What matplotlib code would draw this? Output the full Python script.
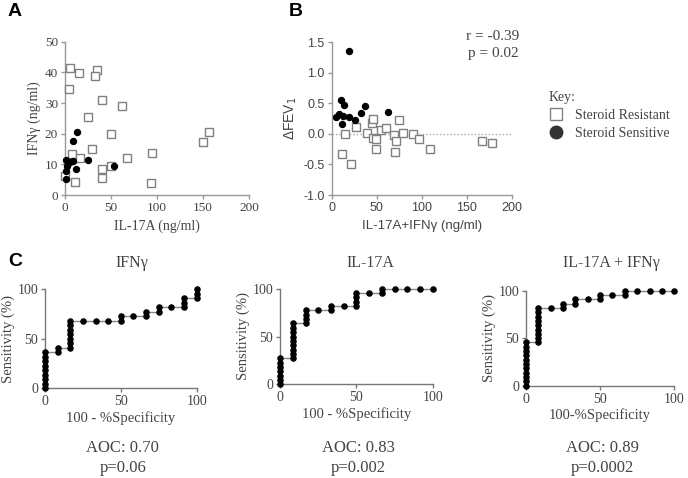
import matplotlib
matplotlib.use("Agg")
import matplotlib.pyplot as plt
from matplotlib.lines import Line2D

# ---------------- Data ----------------
# Panel A: IL-17A vs IFNγ
a_res_x = [5.4, 15.6, 34.7, 32.5, 4.7, 39.8, 61.8, 25, 49.5, 157, 150, 29.7, 95, 8, 16, 67, 50, 40.5, 40.5, 10.8, 93, 0.3]
a_res_y = [41.3, 39.9, 40.8, 38.7, 34.7, 31.1, 29.0, 25.3, 19.8, 20.7, 17.4, 15.1, 13.8, 13.3, 12.0, 12.0, 9.3, 8.5, 5.7, 4.1, 4.0, 6.2]
a_sen_x = [12.7, 8.3, 25.4, 53.6, 12.0, 0.7, 1.0, 3.0, 5.5, 9.0, 2.0, 0.8]
a_sen_y = [20.7, 17.6, 11.3, 9.5, 8.4, 5.1, 11.5, 10.4, 10.8, 11.0, 9.6, 7.8]

# Panel B: IL-17A+IFNγ vs ΔFEV1
b_res_x = [27.4, 14.4, 11.1, 21, 39, 44.4, 46.3, 46, 49, 49.6, 54.8, 60, 75.2, 69, 71.5, 70.4, 79, 90.4, 97, 109, 167, 178]
b_res_y = [0.12, 0.0, -0.33, -0.49, 0.01, 0.18, 0.24, -0.06, -0.09, -0.24, 0.07, 0.10, 0.22, -0.02, -0.11, -0.29, 0.01, 0.0, -0.08, -0.24, -0.12, -0.15]
b_sen_x = [19.3, 10.4, 13.7, 5.2, 8.5, 12.2, 11.1, 19.6, 26, 33, 37, 63]
b_sen_y = [1.35, 0.55, 0.48, 0.27, 0.32, 0.29, 0.16, 0.28, 0.22, 0.35, 0.46, 0.36]
b_stats = ["r = -0.39", "p = 0.02"]

# Panel C: ROC curves (100 - %Specificity, Sensitivity %)
roc_titles = ["IFNγ", "IL-17A", "IL-17A + IFNγ"]
roc_xlabels = ["100 - %Specificity", "100 - %Specificity", "100-%Specificity"]
roc_aoc = ["AOC: 0.70", "AOC: 0.83", "AOC: 0.89"]
roc_p = ["p=0.06", "p=0.002", "p=0.0002"]

roc1_x = [0, 0, 0, 0, 0, 0, 0, 0, 0,
          8.3, 8.3,
          16.7, 16.7, 16.7, 16.7, 16.7, 16.7, 16.7,
          25, 33.3, 41.7, 50, 50, 58.3, 66.7, 66.7, 75, 75, 83.3,
          91.7, 91.7, 91.7, 100, 100, 100]
roc1_y = [0, 4.5, 9.1, 13.6, 18.2, 22.7, 27.3, 31.8, 36.4,
          36.4, 40.9,
          40.9, 45.5, 50, 54.5, 59.1, 63.6, 68.2,
          68.2, 68.2, 68.2, 68.2, 72.7, 72.7, 72.7, 77.3, 77.3, 81.8, 81.8,
          81.8, 86.4, 90.9, 90.9, 95.5, 100]

roc2_x = [0, 0, 0, 0, 0, 0, 0,
          8.3, 8.3, 8.3, 8.3, 8.3, 8.3, 8.3, 8.3, 8.3,
          16.7, 16.7, 16.7, 16.7, 25, 33.3, 33.3, 41.7,
          50, 50, 50, 50, 58.3, 66.7, 66.7, 75, 83.3, 91.7, 100]
roc2_y = [0, 4.5, 9.1, 13.6, 18.2, 22.7, 27.3,
          27.3, 31.8, 36.4, 40.9, 45.5, 50, 54.5, 59.1, 63.6,
          63.6, 68.2, 72.7, 77.3, 77.3, 77.3, 81.8, 81.8,
          81.8, 86.4, 90.9, 95.5, 95.5, 95.5, 100, 100, 100, 100, 100]

roc3_x = [0, 0, 0, 0, 0, 0, 0, 0, 0, 0, 0,
          8.3, 8.3, 8.3, 8.3, 8.3, 8.3, 8.3, 8.3, 8.3,
          16.7, 25, 25, 33.3, 33.3, 41.7, 50, 50, 58.3, 66.7, 66.7,
          75, 83.3, 91.7, 100]
roc3_y = [0, 4.5, 9.1, 13.6, 18.2, 22.7, 27.3, 31.8, 36.4, 40.9, 45.5,
          45.5, 50, 54.5, 59.1, 63.6, 68.2, 72.7, 77.3, 81.8,
          81.8, 81.8, 86.4, 86.4, 90.9, 90.9, 90.9, 95.5, 95.5, 95.5, 100,
          100, 100, 100, 100]

roc_xs = [roc1_x, roc2_x, roc3_x]
roc_ys = [roc1_y, roc2_y, roc3_y]

# ---------------- Figure ----------------
W, H = 688, 478
fig = plt.figure(figsize=(W / 100, H / 100), dpi=100)
SERIF = "Liberation Serif"
SANS = "Liberation Sans"
TXT = "#444444"


def px_axes(x0, x1, ytop, ybot):
    return fig.add_axes([x0 / W, 1 - ybot / H, (x1 - x0) / W, (ybot - ytop) / H])


def style(ax, color, family, size):
    for s in ["top", "right"]:
        ax.spines[s].set_visible(False)
    for s in ["left", "bottom"]:
        ax.spines[s].set_color(color)
        ax.spines[s].set_linewidth(1.0)
    ax.tick_params(direction="out", length=3, width=1.0, color=color,
                   labelcolor=TXT, labelsize=size, pad=2)
    for lab in ax.get_xticklabels() + ax.get_yticklabels():
        lab.set_family(family)


sq_kw = dict(marker="s", ms=5.4, mfc="white", mec="#808080", mew=1.0, ls="none", clip_on=False, zorder=3)
ci_kw = dict(marker="o", ms=4.3, mfc="black", mec="black", ls="none", clip_on=False, zorder=4)

# Panel A
axA = px_axes(65, 249, 41.7, 195)
axA.plot(a_res_x, a_res_y, **sq_kw)
axA.plot(a_sen_x, a_sen_y, **ci_kw)
axA.set_xlim(0, 200)
axA.set_ylim(0, 50)
axA.set_xticks([0, 50, 100, 150, 200])
axA.set_yticks([0, 10, 20, 30, 40, 50])
style(axA, "#999999", SERIF, 9.5)
axA.set_xlabel("IL-17A (ng/ml)", family=SERIF, fontsize=10, color=TXT, labelpad=4)
axA.set_ylabel("IFNγ (ng/ml)", family=SERIF, fontsize=10, color=TXT, labelpad=3)

# Panel B
axB = px_axes(331.7, 511.7, 42.3, 195)
axB.axhline(0, color="#aaaaaa", lw=1.0, ls=(0, (1, 1.5)), zorder=1)
axB.plot(b_res_x, b_res_y, **sq_kw)
axB.plot(b_sen_x, b_sen_y, **ci_kw)
axB.set_xlim(0, 200)
axB.set_ylim(-1.0, 1.5)
axB.set_xticks([0, 50, 100, 150, 200])
axB.set_yticks([-1.0, -0.5, 0.0, 0.5, 1.0, 1.5])
axB.set_yticklabels(["-1.0", "-0.5", "0.0", "0.5", "1.0", "1.5"])
style(axB, "#999999", SANS, 9)
axB.set_xlabel("IL-17A+IFNγ (ng/ml)", family=SANS, fontsize=9.5, color=TXT, labelpad=4)
axB.set_ylabel(r"ΔFEV$_1$", family=SANS, fontsize=10, color=TXT, labelpad=3)
axB.text(1.04, 1.08, b_stats[0] + "\n" + b_stats[1], transform=axB.transAxes,
         ha="right", va="top", family=SERIF, fontsize=11, color=TXT, linespacing=1.4)

# Legend (Key)
handles = [Line2D([], [], marker="s", ms=9, mfc="white", mec="#808080", mew=1.0, ls="none"),
           Line2D([], [], marker="o", ms=9, mfc="#333333", mec="#333333", ls="none")]
leg = fig.legend(handles, ["Steroid Resistant", "Steroid Sensitive"], title="Key:",
                 loc="upper left", bbox_to_anchor=(549 / W, 1 - 91 / H), frameon=False,
                 prop=dict(family=SERIF, size=10), title_fontproperties=dict(family=SERIF, size=10),
                 handletextpad=0.9, labelspacing=0.35, alignment="left", handlelength=1.0,
                 borderaxespad=0, borderpad=0)
for t in leg.get_texts():
    t.set_color(TXT)
leg.get_title().set_color(TXT)

# Panel labels
for lab, (x, y) in zip("ABC", [(8, 12), (289, 12), (8, 262)]):
    fig.text(x / W, 1 - y / H, lab, family=SANS, fontweight="bold", fontsize=14,
             ha="left", va="center", color="black")

# Panel C ROC
roc_boxes = [(45, 196.7, 289.3, 388.3), (280, 432.7, 288.7, 384.3), (526, 674.3, 290.7, 385.7)]
title_x = [131.7, 370, 611.7]
for i in range(3):
    x0, x1, yt, yb = roc_boxes[i]
    ax = px_axes(x0, x1, yt, yb)
    ax.plot(roc_xs[i], roc_ys[i], color="#888888", lw=1.0, marker="o", ms=3.7,
            mfc="black", mec="black", clip_on=False, zorder=3)
    ax.set_xlim(0, 100)
    ax.set_ylim(0, 100)
    ax.set_xticks([0, 50, 100])
    ax.set_yticks([0, 50, 100])
    style(ax, "#777777", SERIF, 10)
    ax.set_xlabel(roc_xlabels[i], family=SERIF, fontsize=10.5, color=TXT, labelpad=2)
    ax.set_ylabel("Sensitivity (%)", family=SERIF, fontsize=10.5, color=TXT, labelpad=2)
    fig.text(title_x[i] / W, 1 - 263 / H, roc_titles[i], family=SERIF, fontsize=11.5,
             ha="center", va="center", color=TXT)
    cx = (x0 + x1) / 2 + 2
    fig.text(cx / W, 1 - 448 / H, roc_aoc[i], family=SERIF, fontsize=12,
             ha="center", va="center", color=TXT)
    fig.text(cx / W, 1 - 468 / H, roc_p[i], family=SERIF, fontsize=12,
             ha="center", va="center", color=TXT)

fig.savefig("out.png", dpi=100)
